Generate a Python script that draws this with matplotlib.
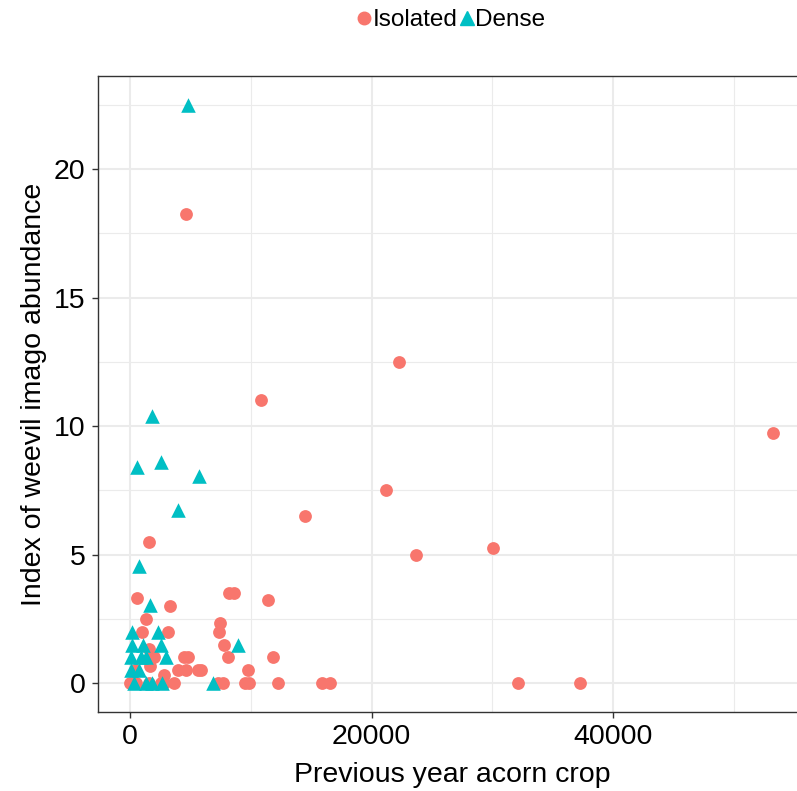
import matplotlib
matplotlib.use("Agg")
import matplotlib.pyplot as plt
from matplotlib.lines import Line2D

plt.rcParams['font.family'] = ['Liberation Sans', 'DejaVu Sans']

# Isolated trees (red circles)
iso_x = [4630, 22230, 10830, 53220, 21160, 14460, 23640, 30050, 1540,
         550, 3280, 8210, 8620, 11430, 1270, 960, 3110, 7470, 7330, 7800,
         8130, 11820, 9720, 4490, 4820, 3990, 4630, 5600, 5870, 2010, 1650,
         440, 2840, 1570,
         0, 220, 500, 1570, 2560, 2810, 3660, 7250, 7660, 9500, 9830,
         12200, 15920, 16560, 32090, 37210]
iso_y = [18.25, 12.5, 11.0, 9.75, 7.5, 6.5, 5.0, 5.25, 5.5,
         3.33, 3.0, 3.5, 3.5, 3.25, 2.5, 2.0, 2.0, 2.33, 2.0, 1.5,
         1.0, 1.0, 0.5, 1.0, 1.0, 0.5, 0.5, 0.5, 0.5, 1.0, 0.67,
         0.5, 0.33, 1.33,
         0, 0, 0, 0, 0, 0, 0, 0, 0, 0, 0,
         0, 0, 0, 0, 0]

# Dense stands (cyan triangles)
den_x = [4760, 1790, 580, 2560, 5730, 3990, 690, 1650, 8900, 6830,
         140, 2340, 190, 1100, 2540, 60, 880, 1300, 2950, 60, 740,
         330, 1300, 1840, 2670]
den_y = [22.5, 10.4, 8.4, 8.6, 8.05, 6.75, 4.57, 3.05, 1.5, 0,
         2.0, 2.0, 1.5, 1.5, 1.5, 1.0, 1.0, 1.0, 1.0, 0.5, 0.5,
         0, 0, 0, 0]

red = "#F8766D"
cyan = "#00BFC4"
dark = "#333333"
grid = "#EBEBEB"

fig = plt.figure(figsize=(7.97, 7.91), dpi=100)
ax = fig.add_axes([98 / 797, 79 / 791, 708 / 797, 636 / 791])

ax.scatter(iso_x, iso_y, s=85, marker="o", color=red, linewidths=0, zorder=3)
ax.scatter(den_x, den_y, s=110, marker="^", color=cyan, linewidths=0, zorder=3)

ax.set_xlim(-2665, 55965)
ax.set_ylim(-1.125, 23.625)
ax.set_xticks([0, 20000, 40000])
ax.set_xticks([10000, 30000, 50000], minor=True)
ax.set_yticks([0, 5, 10, 15, 20])
ax.set_yticks([2.5, 7.5, 12.5, 17.5, 22.5], minor=True)

ax.grid(True, which="major", color=grid, linewidth=1.5, zorder=0)
ax.grid(True, which="minor", color=grid, linewidth=0.8, zorder=0)
ax.set_axisbelow(True)

for sp in ax.spines.values():
    sp.set_color(dark)
    sp.set_linewidth(1.0)

ax.tick_params(which="major", length=4, width=1.0, color=dark,
               labelsize=20.5, labelcolor="black", pad=5)
ax.tick_params(which="minor", length=0)

ax.set_xlabel("Previous year acorn crop", fontsize=20.5, labelpad=8)
ax.set_ylabel("Index of weevil imago abundance", fontsize=20.5, labelpad=5)

handles = [
    Line2D([], [], marker="o", color=red, linestyle="", markersize=9),
    Line2D([], [], marker="^", color=cyan, linestyle="", markersize=10),
]
fig.legend(handles, ["Isolated", "Dense"], loc="center", ncol=2,
           bbox_to_anchor=(451 / 797, 1 - 20 / 791), frameon=False,
           fontsize=17.5, handlelength=0.6, handletextpad=0.05,
           columnspacing=0.1, borderpad=0)

fig.savefig("out.png", dpi=100)
